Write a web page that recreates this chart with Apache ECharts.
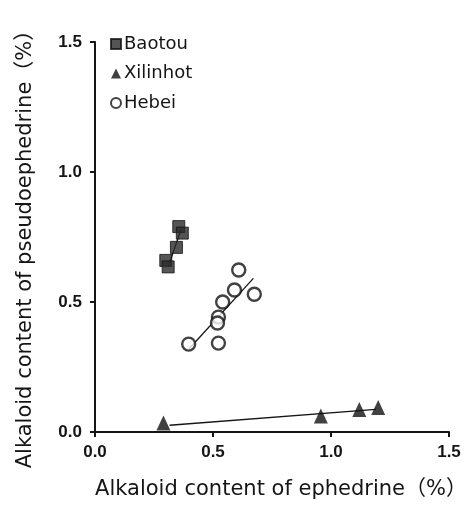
<!DOCTYPE html>
<html>
<head>
<meta charset="utf-8">
<script src="https://cdn.jsdelivr.net/npm/echarts@6/dist/echarts.min.js"></script>
<style>
  html, body { margin: 0; padding: 0; background: #fff; }
  #root { width: 467px; height: 505px; }
</style>
</head>
<body>
<div id="root"></div>
<script>
// data: [ephedrine %, pseudoephedrine %]
const baotou = [[0.355, 0.79], [0.37, 0.765], [0.345, 0.71], [0.30, 0.66], [0.31, 0.635]]
const xilinhot = [[0.29, 0.035], [0.957, 0.062], [1.12, 0.087], [1.20, 0.094]]
const hebei = [[0.609, 0.623], [0.591, 0.546], [0.675, 0.53], [0.541, 0.50],
  [0.523, 0.442], [0.519, 0.419], [0.523, 0.342], [0.397, 0.338]]

// fitted lines, end points
const baotouFit = [[0.31, 0.635], [0.365, 0.78]]
const xilinhotFit = [[0.316, 0.026], [1.19, 0.087]]
const hebeiFit = [[0.398, 0.319], [0.671, 0.591]]

const tickLabels = ['0.0', '0.5', '1.0', '1.5']

const ink = '#151515'
const font = '"Liberation Sans", Arial, sans-serif'
const nameFont = '"DejaVu Sans", "Noto Sans CJK JP", sans-serif'

const chart = echarts.init(document.getElementById('root'))

const axisCommon = {
  type: 'value',
  min: 0,
  max: 1.5,
  interval: 0.5,
  nameLocation: 'middle',
  axisLine: { show: true, lineStyle: { color: ink, width: 2 } },
  axisTick: { show: true, inside: false, length: 5, lineStyle: { color: ink, width: 2 } },
  splitLine: { show: false },
  axisLabel: {
    color: ink,
    fontSize: 17,
    fontWeight: 'bold',
    fontFamily: font,
    formatter: v => tickLabels[Math.round(v / 0.5)]
  }
}

function fitLine (name, pts) {
  return {
    name: name,
    type: 'line',
    data: pts,
    symbol: 'none',
    silent: true,
    z: 1,
    lineStyle: { color: ink, width: 1.3 }
  }
}

const option = {
  animation: false,
  backgroundColor: '#fff',
  grid: { left: 95, right: 18, top: 42, bottom: 73, outerBoundsMode: 'none' },
  legend: {
    orient: 'vertical',
    left: 105,
    top: 29,
    itemGap: 9.5,
    itemWidth: 10,
    itemHeight: 10,
    textStyle: { color: ink, fontSize: 18, lineHeight: 20, fontFamily: nameFont, padding: [0, 0, 0, -2] },
    data: ['Baotou', 'Xilinhot', 'Hebei']
  },
  xAxis: Object.assign({}, axisCommon, {
    name: 'Alkaloid content of ephedrine（%）',
    nameGap: 47,
    nameTextStyle: { color: ink, fontSize: 21, fontFamily: nameFont, padding: [0, 0, 0, 18] },
    axisLabel: Object.assign({}, axisCommon.axisLabel, { margin: 12 })
  }),
  yAxis: Object.assign({}, axisCommon, {
    name: 'Alkaloid content of pseudoephedrine（%）',
    nameGap: 59,
    nameTextStyle: { color: ink, fontSize: 21, fontFamily: nameFont, padding: [0, 14, 0, 0] },
    axisLabel: Object.assign({}, axisCommon.axisLabel, { margin: 13 })
  }),
  series: [
    fitLine('fitB', baotouFit),
    fitLine('fitX', xilinhotFit),
    fitLine('fitH', hebeiFit),
    {
      name: 'Baotou',
      type: 'scatter',
      data: baotou,
      symbol: 'rect',
      symbolSize: 12,
      z: 3,
      itemStyle: { color: '#2b2b2b', borderColor: '#111', borderWidth: 1 }
    },
    {
      name: 'Xilinhot',
      type: 'scatter',
      data: xilinhot,
      symbol: 'triangle',
      symbolSize: [14, 15],
      z: 3,
      itemStyle: { color: '#111' }
    },
    {
      name: 'Hebei',
      type: 'scatter',
      data: hebei,
      symbol: 'circle',
      symbolSize: 13,
      z: 3,
      itemStyle: { color: '#fff', borderColor: '#111', borderWidth: 2.4 }
    }
  ]
}

chart.setOption(option)
</script>
</body>
</html>
